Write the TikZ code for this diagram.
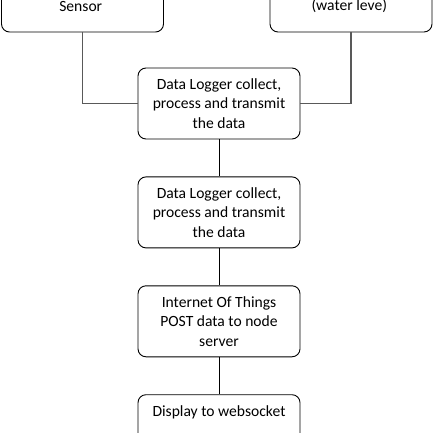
\documentclass[tikz,border=0pt]{standalone}
\usepackage{fontspec}
\setmainfont{Carlito}
\usetikzlibrary{positioning}
\begin{document}
\begin{tikzpicture}[x=1pt,y=-1pt]
\tikzstyle{block}=[draw=black, rounded corners=8pt, line width=0.9pt,
	minimum width=162pt, minimum height=71pt, align=center, inner sep=2pt,
	node distance = 37pt, font=\fontsize{15.6}{19.5}\selectfont,
]
\tikzstyle{link}=[draw=black!65, line width=1.3pt]
\useasboundingbox (0,0) rectangle (433,433);
\clip (0,0) rectangle (433,433);
\node[block, minimum height=52pt] (sensor) at (82.5,6) { Sensor };
\node[block, minimum height=52pt] (water) at (351,6) { (water leve) };
\node[block] (logger) at (219,103.5) { Data Logger collect,\\ process and transmit\\ the data };
\node[block, below = of logger] (logger2) { Data Logger collect,\\ process and transmit\\ the data };
\node[block, below = of logger2] (iot) { Internet Of Things\\ POST data to node\\ server };
\node[block, below = of iot] (display) { Display to websocket\\ ~\\ ~ };
\path[link] (sensor.south) |- (logger.west) ;
\path[link] (water.south) |- (logger.east) ;
\path[draw, line width=0.9pt] (logger) edge (logger2) ;
\path[draw, line width=0.9pt] (logger2) edge (iot) ;
\path[draw, line width=0.9pt] (iot) edge (display) ;
\end{tikzpicture}
\end{document}
